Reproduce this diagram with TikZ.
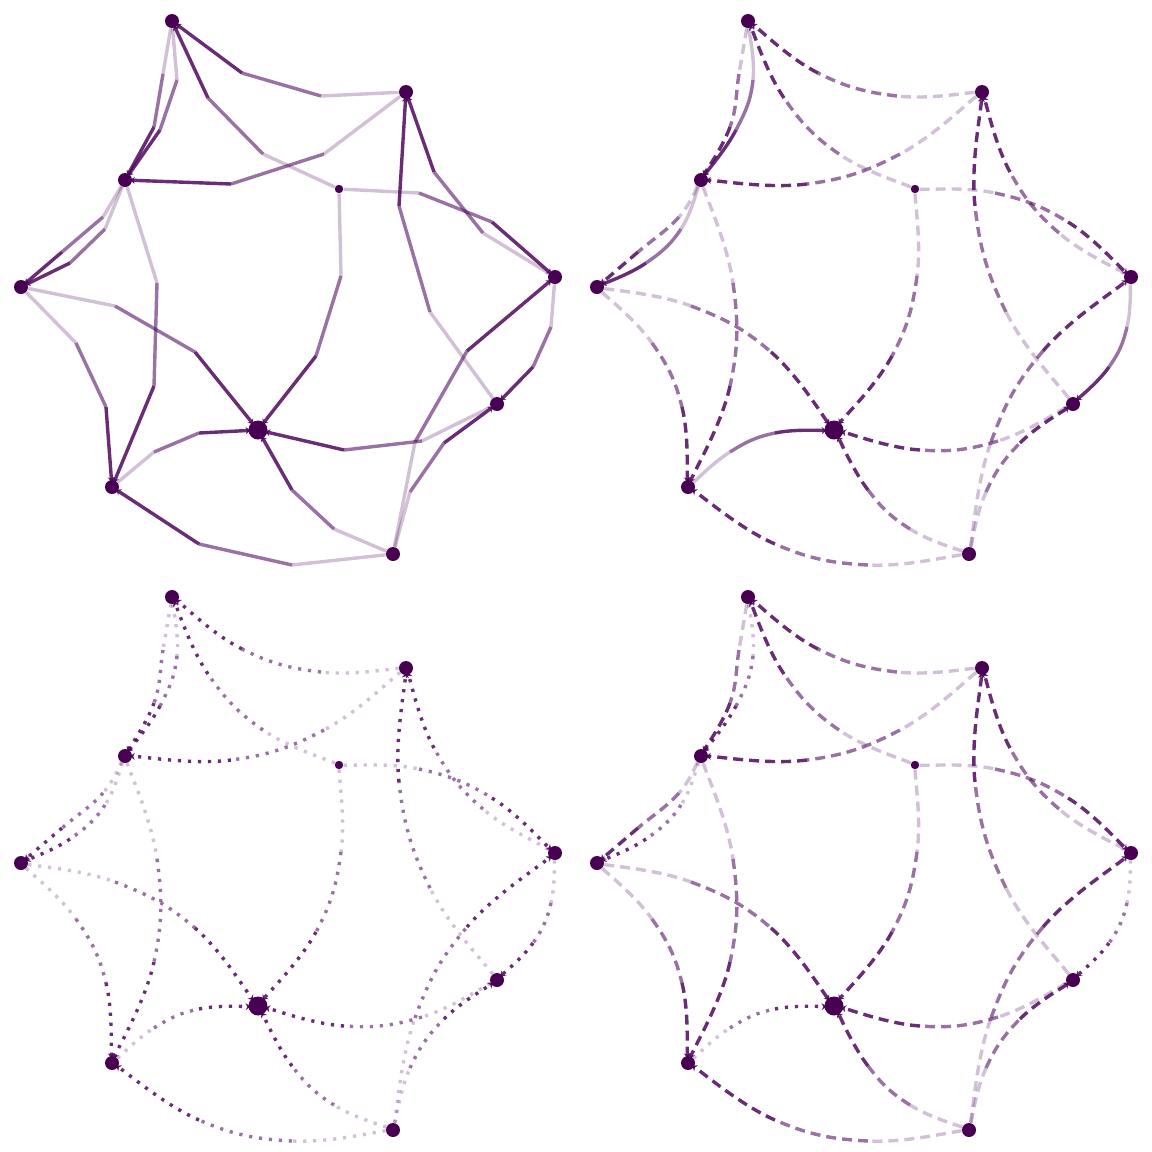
\documentclass[tikz,border=0pt]{standalone}
\usetikzlibrary{calc,arrows.meta}
\pgfdeclarelayer{edges}
\pgfsetlayers{edges,main}
\definecolor{nodec}{RGB}{72,0,82}
\definecolor{edgec}{RGB}{80,10,95}
\tikzset{
  vtx/.style={circle,fill=nodec,draw=none,inner sep=0pt,minimum size=7pt},
  edgelin/.style={draw=edgec,line width=1.7pt},
  opa/.style={draw opacity=0.26},
  opb/.style={draw opacity=0.58},
  opc/.style={draw opacity=0.86},
  tipend/.style={-{Stealth[length=2.4pt,width=3.6pt]},shorten >=-1.2pt},
  solidln/.style={solid},
  dashln/.style={dash pattern=on 5pt off 3pt},
  dotln/.style={dash pattern=on 1.6pt off 3.4pt},
}
\newif\ifstraight
\newcommand\edg[5]{%
  \coordinate (q1) at #3;
  \coordinate (q2) at #4;
  \ifstraight
    \draw[edgelin,#1,opa] (#2) -- (q1);
    \draw[edgelin,#1,opb] (q1) -- (q2);
    \draw[edgelin,#1,opc,tipend] (q2) -- (#5);
  \else
    \draw[edgelin,#1,opa] (#2) .. controls ($(#2)!0.19!(q1)$) and ($(q1)+0.19*(#2)-0.19*(q2)$) .. (q1);
    \draw[edgelin,#1,opb] (q1) .. controls ($(q1)+0.19*(q2)-0.19*(#2)$) and ($(q2)+0.19*(q1)-0.19*(#5)$) .. (q2);
    \draw[edgelin,#1,opc,tipend] (q2) .. controls ($(q2)+0.19*(#5)-0.19*(q1)$) and ($(#5)!0.19!(q2)$) .. (#5);
  \fi}
\newcommand\drawpanel[5]{%
 \begin{scope}[shift={(#2,#3)}]
  \node[vtx] (A#1) at (172,21) {};
  \node[vtx] (B#1) at (406,92) {};
  \node[vtx] (C#1) at (125,180) {};
  \node[vtx,minimum size=4.2pt] (D#1) at (339,189) {};
  \node[vtx] (E#1) at (21,287) {};
  \node[vtx] (F#1) at (555,277) {};
  \node[vtx] (G#1) at (497,404) {};
  \node[vtx,minimum size=9.5pt] (H#1) at (258,430) {};
  \node[vtx] (I#1) at (112,487) {};
  \node[vtx] (J#1) at (393,554) {};
  \begin{pgfonlayer}{edges}
   \edg{#4}{B#1}{(321,96)}{(242,73)}{A#1}
   \edg{#4}{D#1}{(263,154)}{(208,98)}{A#1}
   \edg{#5}{A#1}{(177,80)}{(160,130)}{C#1}
   \edg{#4}{A#1}{(163,74)}{(154,127)}{C#1}
   \edg{#4}{C#1}{(103,217)}{(62,252)}{E#1}
   \edg{#5}{C#1}{(105,229)}{(70,263)}{E#1}
   \edg{#4}{B#1}{(324,154)}{(231,184)}{C#1}
   \edg{#4}{C#1}{(157,283)}{(154,386)}{I#1}
   \edg{#4}{E#1}{(115,306)}{(195,352)}{H#1}
   \edg{#4}{E#1}{(76,343)}{(106,407)}{I#1}
   \edg{#5}{I#1}{(154,452)}{(199,433)}{H#1}
   \edg{#4}{J#1}{(292,565)}{(199,544)}{I#1}
   \edg{#4}{D#1}{(341,276)}{(316,356)}{H#1}
   \edg{#4}{G#1}{(422,441)}{(344,450)}{H#1}
   \edg{#4}{J#1}{(334,529)}{(292,490)}{H#1}
   \edg{#4}{D#1}{(419,193)}{(492,222)}{F#1}
   \edg{#4}{F#1}{(483,233)}{(434,172)}{B#1}
   \edg{#4}{G#1}{(430,312)}{(399,206)}{B#1}
   \edg{#5}{F#1}{(551,327)}{(533,367)}{G#1}
   \edg{#4}{J#1}{(415,442)}{(467,351)}{F#1}
   \edg{#4}{J#1}{(410,492)}{(444,443)}{G#1}
  \end{pgfonlayer}
 \end{scope}}
\begin{document}
\begin{tikzpicture}[x=0.5pt,y=-0.5pt]
  \useasboundingbox (0,0) rectangle (1152,1152);
  \straighttrue
  \drawpanel{a}{0}{0}{solidln}{solidln}
  \straightfalse
  \drawpanel{b}{576}{0}{dashln}{solidln}
  \drawpanel{c}{0}{576}{dotln}{dotln}
  \drawpanel{d}{576}{576}{dashln}{dotln}
\end{tikzpicture}
\end{document}
